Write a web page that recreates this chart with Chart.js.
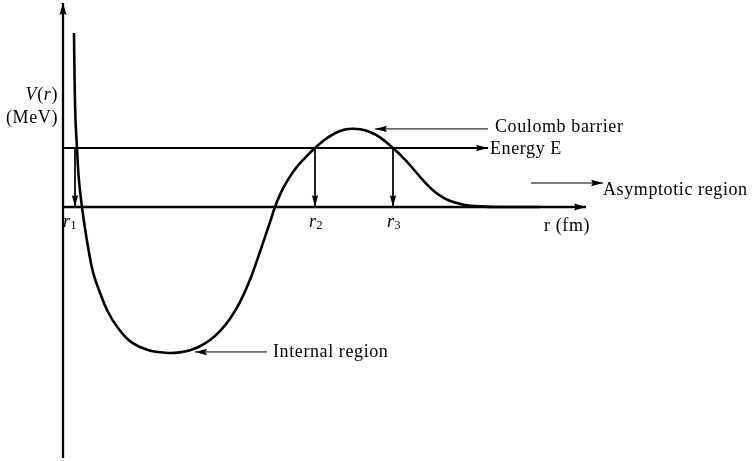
<!DOCTYPE html>
<html>
<head>
<meta charset="utf-8">
<script src="https://cdn.jsdelivr.net/npm/chart.js@4.4.0/dist/chart.umd.min.js"></script>
<style>
body { margin: 0; background: #fff; }
#caja { width: 753px; height: 461px; }
</style>
</head>
<body>
<div id="caja"><canvas id="potencial" width="753" height="461"></canvas></div>
<script>
// potencial V(r) en MeV contra r en fm
const curva_r = [0.44, 0.464, 0.50, 0.56, 0.62, 0.70, 0.76, 0.86, 1.008, 1.20, 1.468, 1.80, 2.20, 2.72, 3.40, 4.20, 4.68, 5.08, 5.48, 5.88, 6.28, 6.68, 7.08, 7.48, 7.88, 8.28, 8.48, 8.68, 8.88, 9.28, 9.68, 10.08, 10.48, 10.88, 11.28, 11.60, 11.88, 12.28, 12.68, 13.20, 13.68, 14.08, 14.48, 14.88, 15.28, 15.68, 16.08, 16.68, 17.48, 19.08];
const curva_v = [8.85, 6.46, 4.42, 3.00, 1.63, 0.61, 0, -0.92, -2.08, -3.31, -4.32, -5.34, -6.15, -6.86, -7.27, -7.42, -7.39, -7.28, -7.08, -6.76, -6.31, -5.68, -4.84, -3.70, -2.27, -0.77, 0, 0.62, 1.13, 1.92, 2.50, 3.00, 3.43, 3.75, 3.94, 3.98, 3.95, 3.81, 3.54, 3.00, 2.41, 1.83, 1.25, 0.76, 0.43, 0.23, 0.10, 0.03, 0, 0];

const energia = 3;
const puntos_retorno = [0.48, 10.08, 13.20];   // r1, r2, r3
const etiquetas_retorno = ['1', '2', '3'];
const r_etiquetas = [0.28, 10.12, 13.24];

// ejes y flechas: [r inicio, V inicio, r punta, V punta]
const ejes = [
    [0, -12.76, 0, 10.37],
    [0, 0, 20.92, 0]
];
const flechas_texto = [
    [17.0, 3.97, 12.48, 3.97],   // Coulomb barrier
    [18.72, 1.22, 21.6, 1.22],   // Asymptotic region
    [8.16, -7.37, 5.28, -7.37]   // Internal region
];

const fuente = '"Liberation Serif", serif';

function segmento(p, grosor) {
    return {
        data: [{x: p[0], y: p[1]}, {x: p[2], y: p[3]}],
        borderColor: '#000',
        borderWidth: grosor,
        pointRadius: 0,
        showLine: true,
        tension: 0
    };
}

const flechas = [];
const datasets = [];

ejes.forEach(p => { datasets.push(segmento(p, 2.3)); flechas.push({p: p, largo: 12, ancho: 3.6}); });

const linea_e = [0, energia, 17.0, energia];
datasets.push(segmento(linea_e, 2));
flechas.push({p: linea_e, largo: 12, ancho: 3.2});

puntos_retorno.forEach(r => {
    const p = [r, energia, r, 0];
    datasets.push(segmento(p, 1));
    flechas.push({p: p, largo: 12, ancho: 3.2});
});

flechas_texto.forEach(p => { datasets.push(segmento(p, 1)); flechas.push({p: p, largo: 12, ancho: 3.2}); });

datasets.push({
    data: curva_r.map((r, i) => ({x: r, y: curva_v[i]})),
    borderColor: '#000',
    borderWidth: 2.6,
    pointRadius: 0,
    showLine: true,
    tension: 0.4
});

// textos: trozos [texto, cursiva, subindice]
const textos = [
    {r: -0.2, v: 5.69, alinear: 'right', trozos: [['V', true], ['(', false], ['r', true], [')', false]]},
    {r: -0.2, v: 4.53, alinear: 'right', trozos: [['(MeV)', false]]},
    {r: 19.24, v: -0.97, alinear: 'left', trozos: [['r (fm)', false]]},
    {r: 17.08, v: 2.95, alinear: 'left', trozos: [['Energy E', false]]},
    {r: 17.28, v: 4.07, alinear: 'left', trozos: [['Coulomb barrier', false]]},
    {r: 21.6, v: 0.86, alinear: 'left', trozos: [['Asymptotic region', false]]},
    {r: 8.4, v: -7.37, alinear: 'left', trozos: [['Internal region', false]]}
];
r_etiquetas.forEach((r, i) => {
    textos.push({r: r, v: -0.76, alinear: 'center', trozos: [['r', true], [etiquetas_retorno[i], false, true]]});
});

function punta(ctx, x1, y1, x2, y2, largo, ancho) {
    const a = Math.atan2(y2 - y1, x2 - x1);
    ctx.save();
    ctx.translate(x2, y2);
    ctx.rotate(a);
    ctx.beginPath();
    ctx.moveTo(0, 0);
    ctx.lineTo(-largo, -ancho);
    ctx.lineTo(-largo * 0.85, 0);
    ctx.lineTo(-largo, ancho);
    ctx.closePath();
    ctx.fillStyle = '#000';
    ctx.fill();
    ctx.restore();
}

function fuenteDe(t) {
    return (t[1] ? 'italic ' : '') + (t[2] ? '12px ' : '18px ') + fuente;
}

const dibujo = {
    id: 'dibujo',
    afterDatasetsDraw(chart) {
        const ctx = chart.ctx;
        const sx = chart.scales.x, sy = chart.scales.y;
        flechas.forEach(f => {
            punta(ctx, sx.getPixelForValue(f.p[0]), sy.getPixelForValue(f.p[1]),
                sx.getPixelForValue(f.p[2]), sy.getPixelForValue(f.p[3]), f.largo, f.ancho);
        });
        ctx.save();
        ctx.fillStyle = '#000';
        ctx.textBaseline = 'middle';
        ctx.letterSpacing = '0.6px';
        textos.forEach(t => {
            let total = 0;
            t.trozos.forEach(z => { ctx.font = fuenteDe(z); total += ctx.measureText(z[0]).width; });
            let x = sx.getPixelForValue(t.r);
            const y = sy.getPixelForValue(t.v);
            if (t.alinear === 'right') x -= total;
            if (t.alinear === 'center') x -= total / 2;
            t.trozos.forEach(z => {
                ctx.font = fuenteDe(z);
                ctx.textAlign = 'left';
                ctx.fillText(z[0], x, z[2] ? y + 4 : y);
                x += ctx.measureText(z[0]).width;
            });
        });
        ctx.restore();
    }
};

const grafico = new Chart(document.getElementById('potencial').getContext('2d'), {
    type: 'scatter',
    data: { datasets: datasets },
    options: {
        responsive: false,
        animation: false,
        layout: { padding: 0 },
        plugins: { legend: { display: false }, tooltip: { enabled: false } },
        scales: {
            x: { type: 'linear', display: false, min: -2.52, max: 27.6 },
            y: { type: 'linear', display: false, min: -12.915, max: 10.525 }
        }
    },
    plugins: [dibujo]
});
</script>
</body>
</html>
